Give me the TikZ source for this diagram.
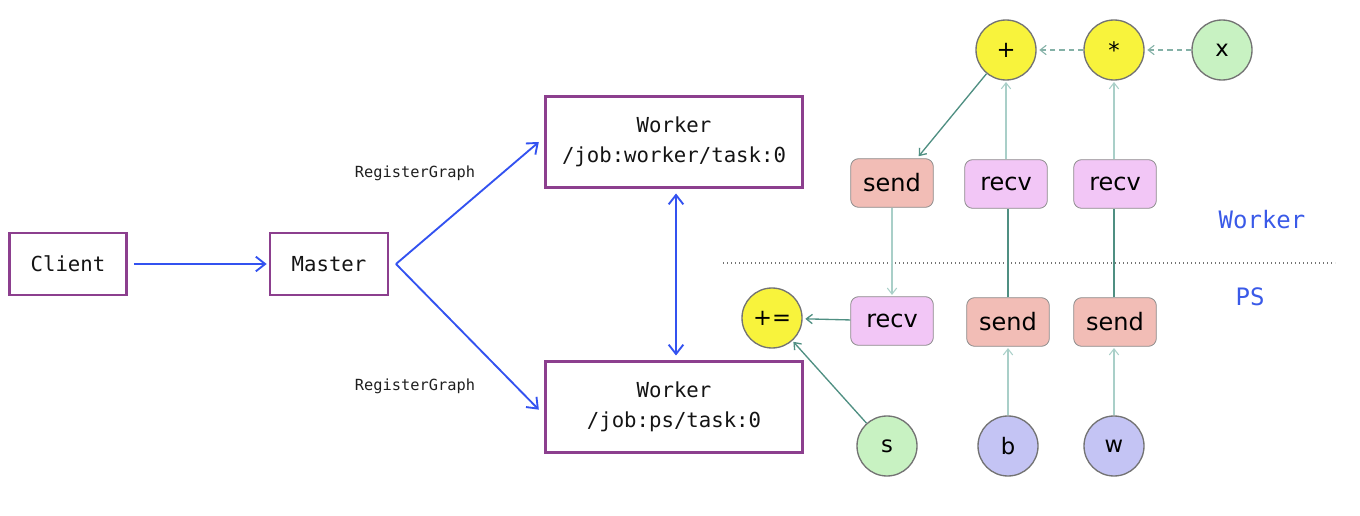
\documentclass[tikz,border=0pt]{standalone}
\usepackage{fontspec}
\setmainfont{DejaVu Sans}
\newfontfamily\monofont{DejaVu Sans Mono}
\usetikzlibrary{arrows.meta}
\definecolor{boxpurple}{HTML}{8C3F8E}
\definecolor{flowblue}{HTML}{3352F0}
\definecolor{edgeteal}{HTML}{4F8F82}
\definecolor{edgelight}{HTML}{A9CFC8}
\definecolor{opyellow}{HTML}{F8F33C}
\definecolor{vargreen}{HTML}{C8F2C2}
\definecolor{varblue}{HTML}{C4C4F4}
\definecolor{recvpink}{HTML}{F2C6F6}
\definecolor{sendsalmon}{HTML}{F2BDB6}
\definecolor{labelblue}{HTML}{3A5AE8}
\tikzset{
  procbox/.style={draw=boxpurple, line width=2pt, fill=white, align=center,
    font=\monofont\fontsize{15.5}{22.5}\selectfont, text=black!92, inner sep=0pt},
  bluearrow/.style={draw=flowblue, line width=1.4pt, -{Straight Barb[length=7pt,width=11pt]}},
  reglabel/.style={font=\monofont\fontsize{11.5}{14}\selectfont, text=black!88},
  opnode/.style={circle, draw=black!55, line width=1pt, minimum size=45pt, inner sep=0pt,
    font=\fontsize{17}{20}\selectfont},
  rbox/.style={rounded corners=6pt, draw=black!45, line width=0.6pt, minimum width=62pt,
    minimum height=36.5pt, inner sep=0pt, font=\fontsize{18}{22}\selectfont},
  darkedge/.style={draw=edgeteal, line width=1pt, -{Straight Barb[length=4.5pt,width=7pt]}},
  lightedge/.style={draw=edgelight, line width=0.8pt, -{Straight Barb[length=4.5pt,width=7pt]}},
  sidelabel/.style={font=\monofont\fontsize{18}{22}\selectfont, text=labelblue}
}
\begin{document}
\begin{tikzpicture}[x=0.75pt,y=-0.75pt]
\useasboundingbox (0,0) rectangle (1360,516);
% left part
\node[procbox, minimum width=87.75pt, minimum height=46.5pt] (client) at (68,264) {Client};
\node[procbox, minimum width=88.5pt, minimum height=46.5pt] (master) at (329,264) {Master};
\node[procbox, minimum width=192.75pt, minimum height=68.25pt] (wtop) at (674,142) {Worker\\/job:worker/task:0};
\node[procbox, minimum width=192.75pt, minimum height=68.25pt] (wbot) at (674,407) {Worker\\/job:ps/task:0};
\coordinate (fork) at (396,264);
\draw[bluearrow, shorten <=4.5pt, shorten >=1.5pt] (client.east) -- (master.west);
\draw[bluearrow] (fork) -- ([xshift=-4pt]wtop.west);
\draw[bluearrow] (fork) -- ([xshift=-4pt,yshift=-2pt]wbot.west);
\draw[bluearrow, {Straight Barb[length=7pt,width=11pt]}-{Straight Barb[length=7pt,width=11pt]}, shorten <=3.5pt, shorten >=3.5pt] ([xshift=1.5pt]wtop.south) -- ([xshift=1.5pt]wbot.north);
\node[reglabel] (rg1) at (415,173) {RegisterGraph};
\node[reglabel] (rg2) at (415,386) {RegisterGraph};
% right part
\node[opnode, fill=opyellow] (plus) at (1006,50) {+};
\node[opnode, fill=opyellow] (mul) at (1114,50) {*};
\node[opnode, fill=vargreen] (xx) at (1222,50) {x};
\node[rbox, fill=sendsalmon] (sendT) at (892,183) {send};
\node[rbox, fill=recvpink] (recvTm) at (1006,184) {recv};
\node[rbox, fill=recvpink] (recvTr) at (1115,184) {recv};
\coordinate (divL) at (723,263);
\coordinate (divR) at (1335,263);
\draw[black!55, line width=1pt, dotted] (divL) -- (divR);
\node[sidelabel] (lw) at (1262,220) {Worker};
\node[sidelabel] (lps) at (1250,297) {PS};
\node[opnode, fill=opyellow] (pluseq) at (772,318) {+=};
\node[rbox, fill=recvpink] (recvB) at (892,321) {recv};
\node[rbox, fill=sendsalmon] (sendBm) at (1008,322) {send};
\node[rbox, fill=sendsalmon] (sendBr) at (1115,322) {send};
\node[opnode, fill=vargreen] (s) at (887,446) {s};
\node[opnode, fill=varblue] (b) at (1008,446) {b};
\node[opnode, fill=varblue] (w) at (1114,446) {w};
% edges
\draw[lightedge, dash pattern=on 4pt off 3pt, draw=edgeteal!70, shorten >=2pt] (mul) -- (plus);
\draw[lightedge, dash pattern=on 4pt off 3pt, draw=edgeteal!70, shorten >=2pt] (xx) -- (mul);
\draw[darkedge, shorten >=2pt] (plus) -- ([xshift=25pt*0.75]sendT.north);
\draw[lightedge, shorten >=1pt] (recvTm) -- (plus);
\draw[lightedge, shorten >=1pt] (recvTr.north -| mul) -- (mul);
\draw[lightedge, shorten >=1pt] (sendT) -- (recvB);
\draw[draw=edgeteal, line width=1pt] (sendBm.north) -- (sendBm.north |- recvTm.south);
\draw[draw=edgeteal, line width=1pt] (sendBr.north -| mul) -- (recvTr.south -| mul);
\draw[darkedge, shorten >=2pt] (recvB) -- (pluseq);
\draw[darkedge, shorten >=1pt] (s) -- (pluseq);
\draw[lightedge, shorten >=1pt] (b) -- (sendBm);
\draw[lightedge, shorten >=1pt] (w) -- (sendBr.south -| w);
\end{tikzpicture}
\end{document}
